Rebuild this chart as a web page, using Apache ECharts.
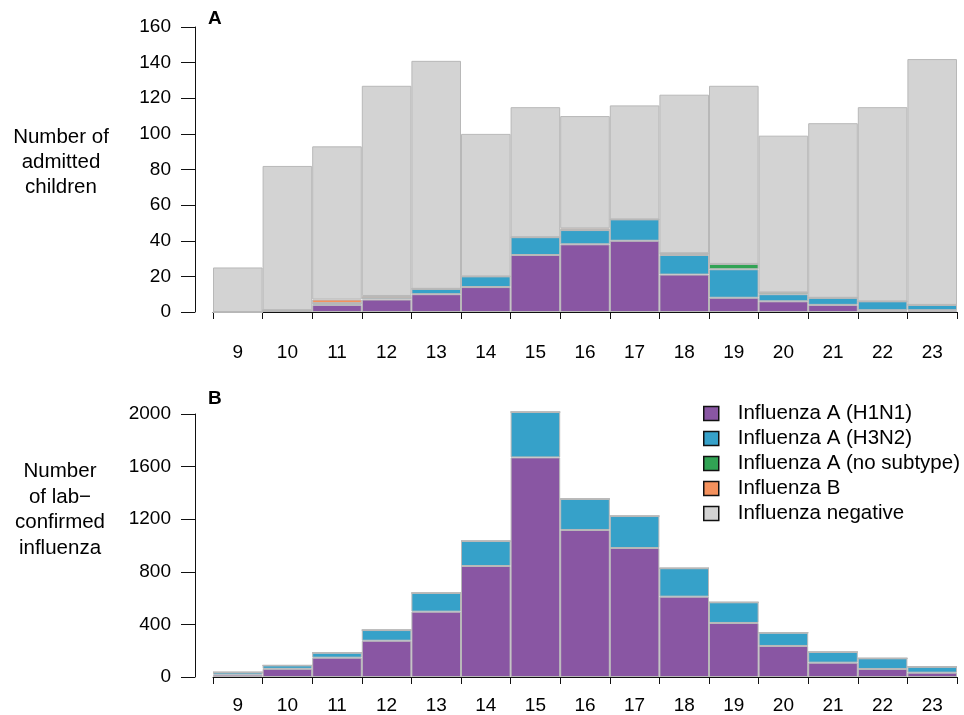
<!DOCTYPE html>
<html>
<head>
<meta charset="utf-8">
<script src="https://cdn.jsdelivr.net/npm/echarts@6/dist/echarts.min.js"></script>
<style>
html,body{margin:0;padding:0;background:#fff;}
#chart{width:964px;height:715px;}
</style>
</head>
<body>
<div id="chart"></div>
<script>
// ---- data ----
const weeks = ['9','10','11','12','13','14','15','16','17','18','19','20','21','22','23'];
const seriesNames = ['Influenza A (H1N1)','Influenza A (H3N2)','Influenza A (no subtype)','Influenza B','Influenza negative'];
// Panel A: admitted children
const admH1N1  = [0, 1, 4, 7, 10, 14, 32, 38, 40, 21,  8,  6,  4,   1,   1];
const admH3N2  = [0, 0, 1, 1,  3,  6, 10,  8, 12, 11, 16,  4,  4,   5,   3];
const admNoSub = [0, 0, 0, 0,  0,  0,  0,  0,  0,  1,  3,  1,  0,   0,   0];
const admB     = [0, 0, 2, 1,  0,  0,  0,  1,  0,  0,  0,  0,  0,   0,   0];
const admNeg   = [25,81,86,118,128,80, 73, 63, 64, 89,100, 88, 98, 109, 138];
// Panel B: lab-confirmed influenza
const labH1N1  = [18, 62, 147, 276, 497, 844, 1670, 1118, 981, 611, 411, 236, 109, 61, 33];
const labH3N2  = [18, 26,  38,  81, 142, 190,  345,  236, 243, 216, 157, 101,  81, 81, 45];
const labNoSub = [0, 0, 0, 0, 0, 0, 0, 0, 0, 0, 0, 0, 0, 0, 0];
const labB     = [0, 0, 0, 0, 0, 0, 0, 0, 0, 0, 0, 0, 0, 0, 0];

const colors = ['#8956a3','#36a1c9','#31a354','#f4915d','#d3d3d3'];
const FONT = "'Liberation Sans', Arial, Helvetica, sans-serif";
const FS = 19;
const FSL = 20.5;

const chart = echarts.init(document.getElementById('chart'), null, {renderer:'canvas'});

function mkSeries(name, data, idx, color, stack){
  return {
    name: name, type: 'bar', stack: stack, data: data,
    xAxisIndex: idx, yAxisIndex: idx,
    barCategoryGap: '0%', clip: false,
    itemStyle: {color: color, borderColor: '#b8b8b8', borderWidth: 1},
    emphasis: {disabled: true},
    animation: false
  };
}

const series = [
  mkSeries(seriesNames[0], admH1N1, 0, colors[0], 'A'),
  mkSeries(seriesNames[1], admH3N2, 0, colors[1], 'A'),
  mkSeries(seriesNames[2], admNoSub, 0, colors[2], 'A'),
  mkSeries(seriesNames[3], admB, 0, colors[3], 'A'),
  mkSeries(seriesNames[4], admNeg, 0, colors[4], 'A'),
  mkSeries(seriesNames[0], labH1N1, 1, colors[0], 'B'),
  mkSeries(seriesNames[1], labH3N2, 1, colors[1], 'B'),
  mkSeries(seriesNames[2], labNoSub, 1, colors[2], 'B'),
  mkSeries(seriesNames[3], labB, 1, colors[3], 'B')
];

function xAx(idx, offset, margin){
  return {
    type:'category', gridIndex: idx, data: weeks, offset: offset,
    axisLine:{show:true, lineStyle:{color:'#111', width:1}},
    axisTick:{show:true, length:7, lineStyle:{color:'#111', width:1}},
    axisLabel:{fontSize:FS, color:'#000', fontFamily:FONT, margin: margin},
    splitLine:{show:false}
  };
}
function yAx(idx, max, interval){
  return {
    type:'value', gridIndex: idx, min:0, max:max, interval:interval, offset:18,
    axisLine:{show:true, lineStyle:{color:'#111', width:1}},
    axisTick:{show:true, inside:false, length:14, lineStyle:{color:'#111', width:1}},
    axisLabel:{fontSize:FS, color:'#000', fontFamily:FONT, margin:24, formatter: v => String(v)},
    splitLine:{show:false}
  };
}

const option = {
  animation:false,
  backgroundColor:'#fff',
  textStyle:{fontFamily:FONT},
  grid:[
    {left:213, width:744, top:27, height:285},
    {left:213, width:744, top:414, height:263}
  ],
  xAxis:[ xAx(0, 15, 16), xAx(1, 10, 9) ],
  yAxis:[ yAx(0, 160, 20), yAx(1, 2000, 400) ],
  legend:{
    data: seriesNames.map(n=>({name:n, icon:'rect'})),
    orient:'vertical', left:703, top:403, padding:0,
    itemWidth:15, itemHeight:14, itemGap:4,
    itemStyle:{borderColor:'#111', borderWidth:1.5},
    textStyle:{fontSize:FSL, color:'#000', fontFamily:FONT, lineHeight:20, padding:[0,0,0,14]},
    selectedMode:false
  },
  graphic:[
    {type:'text', left:208, top:9, style:{text:'A', font:'bold 19px '+FONT, fill:'#000'}},
    {type:'text', left:208, top:389, style:{text:'B', font:'bold 19px '+FONT, fill:'#000'}},
    {type:'text', x:61, y:162, style:{text:'Number of\nadmitted\nchildren', font:FSL+'px '+FONT, fill:'#000', align:'center', verticalAlign:'middle', lineHeight:25}},
    {type:'text', x:60, y:510, style:{text:'Number\nof lab\u2212\nconfirmed\ninfluenza', font:FSL+'px '+FONT, fill:'#000', align:'center', verticalAlign:'middle', lineHeight:25.5}}
  ],
  series: series
};
chart.setOption(option);
</script>
</body>
</html>
